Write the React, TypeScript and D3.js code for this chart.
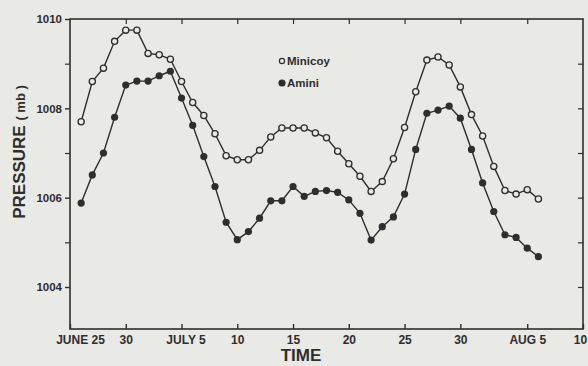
import React, { useEffect, useRef } from 'react';
import * as d3 from 'd3';

// days counted from June 25 (day 0)
const days = [1, 2, 3, 4, 5, 6, 7, 8, 9, 10, 11, 12, 13, 14, 15, 16, 17, 18, 19, 20, 21,
  22, 23, 24, 25, 26, 27, 28, 29, 30, 31, 32, 33, 34, 35, 36, 37, 38, 39, 40, 41, 42];

const minicoy = [1007.7, 1008.6, 1008.9, 1009.5, 1009.75, 1009.75, 1009.23, 1009.2, 1009.1, 1008.6,
  1008.13, 1007.84, 1007.43, 1006.94, 1006.85, 1006.85, 1007.06, 1007.36, 1007.56, 1007.56, 1007.56,
  1007.45, 1007.34, 1007.04, 1006.76, 1006.48, 1006.14, 1006.36, 1006.87, 1007.57, 1008.37, 1009.08,
  1009.15, 1008.97, 1008.48, 1007.86, 1007.38, 1006.7, 1006.16, 1006.08, 1006.18, 1005.97];

const amini = [1005.88, 1006.51, 1007.0, 1007.8, 1008.52, 1008.61, 1008.61, 1008.73, 1008.83, 1008.23,
  1007.62, 1006.92, 1006.25, 1005.45, 1005.06, 1005.24, 1005.54, 1005.93, 1005.93, 1006.25, 1006.03,
  1006.14, 1006.16, 1006.12, 1005.95, 1005.65, 1005.05, 1005.35, 1005.57, 1006.08, 1007.08, 1007.89,
  1007.96, 1008.05, 1007.78, 1007.08, 1006.33, 1005.69, 1005.17, 1005.11, 1004.87, 1004.68];

const xTicks = [0, 5, 10, 15, 20, 25, 30, 35, 41, 46];
const xTickLabels = ['JUNE 25', '30', 'JULY 5', '10', '15', '20', '25', '30', 'AUG 5', '10'];
const yLabelTicks = [1004, 1006, 1008, 1010];
const yMinorTicks = [1005, 1007, 1009];
const yRightTicks = [1004, 1005, 1006, 1007, 1008, 1009];

const ink = '#2e2e2e';
const bg = '#e9e9e6';

const PressureChart = () => {
  const ref = useRef<SVGSVGElement>(null);

  useEffect(() => {
    const svg = d3.select(ref.current);
    svg.selectAll('*').remove();
    draw(svg);
  }, []);

  return (
    <svg ref={ref} width={588} height={366}
      style={{ position: 'absolute', left: 0, top: 0, background: bg }} />
  );
};

const draw = (svg: any) => {
  const left = 70, right = 583, top = 19, bottom = 329;
  const font = "'Liberation Sans', Arial, sans-serif";

  const x = d3.scaleLinear().domain([0, 46]).range([left, right]);
  const y = d3.scaleLinear().domain([1003.06, 1010]).range([bottom, top]);

  const g = svg.append('g');

  // frame
  g.append('rect')
    .attr('x', left).attr('y', top)
    .attr('width', right - left).attr('height', bottom - top)
    .attr('fill', 'none').attr('stroke', ink).attr('stroke-width', 1.6);

  // bottom axis
  const bottomAxis = g.append('g')
    .attr('transform', 'translate(0,' + bottom + ')')
    .call(d3.axisBottom(x).tickValues(xTicks).tickSize(-5).tickPadding(6)
      .tickFormat((d: any, i: number) => xTickLabels[i]));
  bottomAxis.select('.domain').remove();
  bottomAxis.selectAll('line').attr('stroke', ink).attr('stroke-width', 1.4);
  bottomAxis.selectAll('text')
    .attr('fill', ink).style('font', 'bold 12px ' + font)
    .attr('dx', (d: any, i: number) => (i === 0 ? 10 : i === 2 ? 4 : i === 9 ? -3 : 0));

  // top axis ticks
  const topAxis = g.append('g')
    .attr('transform', 'translate(0,' + top + ')')
    .call(d3.axisTop(x).tickValues(xTicks.slice(1, -1)).tickSize(-5).tickFormat(() => ''));
  topAxis.select('.domain').remove();
  topAxis.selectAll('line').attr('stroke', ink).attr('stroke-width', 1.2);

  // left axis
  const leftAxis = g.append('g')
    .attr('transform', 'translate(' + left + ',0)')
    .call(d3.axisLeft(y).tickValues(yLabelTicks).tickSize(5).tickPadding(3).tickFormat(d3.format('d')));
  leftAxis.select('.domain').remove();
  leftAxis.selectAll('line').attr('stroke', ink).attr('stroke-width', 1.4);
  leftAxis.selectAll('text').attr('fill', ink).style('font', 'bold 11.5px ' + font);

  const leftMinor = g.append('g')
    .attr('transform', 'translate(' + left + ',0)')
    .call(d3.axisLeft(y).tickValues(yMinorTicks).tickSize(5).tickFormat(() => ''));
  leftMinor.select('.domain').remove();
  leftMinor.selectAll('line').attr('stroke', ink).attr('stroke-width', 1.2);

  // right axis ticks
  const rightAxis = g.append('g')
    .attr('transform', 'translate(' + right + ',0)')
    .call(d3.axisRight(y).tickValues(yRightTicks).tickSize(-5).tickFormat(() => ''));
  rightAxis.select('.domain').remove();
  rightAxis.selectAll('line').attr('stroke', ink).attr('stroke-width', 1.2);

  const line = d3.line<number>()
    .x((d, i) => x(days[i]))
    .y((d) => y(d));

  [minicoy, amini].forEach((series) => {
    g.append('path')
      .datum(series)
      .attr('d', line)
      .attr('fill', 'none')
      .attr('stroke', ink)
      .attr('stroke-width', 1.4);
  });

  g.selectAll('.amini')
    .data(amini)
    .enter().append('circle')
    .attr('cx', (d: number, i: number) => x(days[i]))
    .attr('cy', (d: number) => y(d))
    .attr('r', 3.6)
    .attr('fill', ink);

  g.selectAll('.minicoy')
    .data(minicoy)
    .enter().append('circle')
    .attr('cx', (d: number, i: number) => x(days[i]))
    .attr('cy', (d: number) => y(d))
    .attr('r', 3.1)
    .attr('fill', bg)
    .attr('stroke', ink)
    .attr('stroke-width', 1.3);

  // legend
  const legend = [
    { name: 'Minicoy', open: true, yy: 61 },
    { name: 'Amini', open: false, yy: 83 },
  ];
  legend.forEach((l) => {
    g.append('circle')
      .attr('cx', 282).attr('cy', l.yy).attr('r', l.open ? 2.6 : 3)
      .attr('fill', l.open ? bg : ink).attr('stroke', ink).attr('stroke-width', 1.2);
    g.append('text')
      .attr('x', 287).attr('y', l.yy + 4)
      .attr('fill', ink).style('font', 'bold 11.5px ' + font)
      .text(l.name);
  });

  // axis titles
  const yTitle = g.append('text')
    .attr('transform', 'translate(25,152) rotate(-90)')
    .attr('text-anchor', 'middle')
    .attr('fill', ink)
    .style('font', 'bold 17px ' + font);
  yTitle.append('tspan').text('PRESSURE ');
  yTitle.append('tspan').style('font-size', '13px').text('( mb )');

  g.append('text')
    .attr('x', 301).attr('y', 361)
    .attr('text-anchor', 'middle')
    .attr('fill', ink)
    .style('font', 'bold 17px ' + font)
    .text('TIME');
};

export default function App() {
  return <PressureChart />;
}
